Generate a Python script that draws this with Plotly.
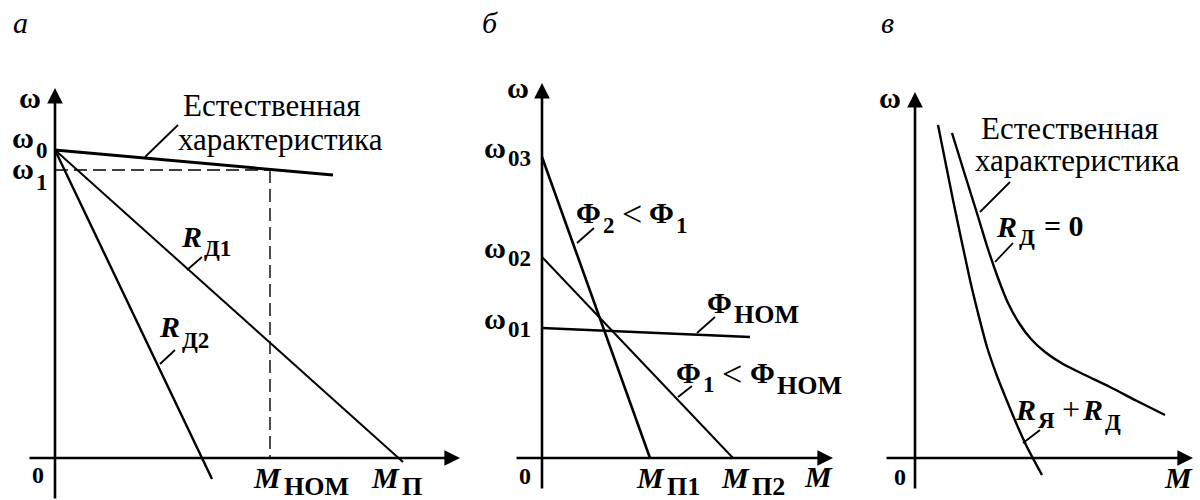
import plotly.graph_objects as go

# ---------------- data (relative units of torque M and speed ω) ----------------
# Panel а: rheostat characteristics
a_omega0 = 308
a_omega1 = 288
a_m_nom = 215
a_m_p = 343
a_nat_M = [0, 278]
a_nat_w = [308, 283]
a_rd1_M = [0, 348]
a_rd1_w = [308, -4]
a_rd2_M = [0, 157]
a_rd2_w = [308, -21]

# Panel б: field weakening
b_omega03 = 301
b_omega02 = 201
b_omega01 = 130
b_m_p1 = 108
b_m_p2 = 191
b_phi2_M = [0, 108]
b_phi2_w = [301, 0]
b_phi1_M = [0, 191]
b_phi1_w = [201, 0]
b_phinom_M = [0, 208]
b_phinom_w = [130, 121]

# Panel в: series excitation motor
v_rsum_M = [23, 38, 55, 63, 72, 82, 92, 102, 112, 127]
v_rsum_w = [333, 258, 178, 145, 111, 82, 57, 33, 11, -17]
v_nat_M = [37, 50, 61, 72, 83, 93, 104, 116, 130, 148, 170, 195, 222, 250]
v_nat_w = [325, 283, 248, 212, 180, 155, 135, 119, 106, 94, 83, 71, 57, 43]

FONT = "Times New Roman, Tinos, serif"
BLACK = "#000000"

fig = go.Figure()

# axis ids per panel
P = {"a": ("x", "y"), "b": ("x2", "y2"), "v": ("x3", "y3")}


def line(panel, xs, ys, width=2.0, dash=None, shape="linear"):
    xr, yr = P[panel]
    fig.add_trace(go.Scatter(
        x=xs, y=ys, mode="lines", xaxis=xr, yaxis=yr,
        line=dict(color=BLACK, width=width, dash=dash, shape=shape, smoothing=0.7),
        hoverinfo="skip", showlegend=False))


def text(panel, x, y, s, size=28, bold=True, italic=False, anchor="center"):
    xr, yr = P[panel]
    if italic:
        s = f"<i>{s}</i>"
    if bold:
        s = f"<b>{s}</b>"
    fig.add_annotation(x=x, y=y, xref=xr, yref=yr, text=s, showarrow=False,
                       xanchor=anchor, yanchor="middle", borderpad=0,
                       font=dict(family=FONT, size=size, color=BLACK))


def symbol(panel, x, y_main, y_sub, main, subs, italic=False,
           size=None, sub_size=None):
    """Main symbol ending at x with its subscript starting at x."""
    text(panel, x, y_main, main, size=size or MAIN, italic=italic, anchor="right")
    text(panel, x, y_sub, subs, size=sub_size or SUB, anchor="left")


def arrow_axis(panel, x0, y0, x1, y1):
    xr, yr = P[panel]
    fig.add_annotation(x=x1, y=y1, ax=x0, ay=y0, xref=xr, yref=yr,
                       axref=xr, ayref=yr, text="", showarrow=True,
                       arrowhead=2, arrowsize=1.2, arrowwidth=2.6,
                       arrowcolor=BLACK, standoff=0)


SUB = 23     # subscript size
MAIN = 30    # main symbol size
SUBW = 26    # word subscripts (НОМ, П)
REL = 36     # relation signs < and +

# ---------------- panel а ----------------
arrow_axis("a", 0, -42, 0, 370)
arrow_axis("a", -27, 0, 405, 0)
line("a", a_nat_M, a_nat_w, width=3)
line("a", a_rd1_M, a_rd1_w, width=2)
line("a", a_rd2_M, a_rd2_w, width=2.4)
line("a", [0, a_m_nom], [a_omega1, a_omega1], width=1.4, dash="13px,6px")
line("a", [a_m_nom, a_m_nom], [a_omega1, 0], width=1.4, dash="13px,6px")
line("a", [90, 123], [301, 333], width=1.8)
line("a", [132, 147], [188, 201], width=1.8)
line("a", [105, 120], [94, 108], width=1.8)

text("a", -35, 436, "а", size=30, bold=False, italic=True)
text("a", -25, 361, "ω", size=MAIN)
symbol("a", -20, a_omega0 + 13, a_omega0, "ω", "0")
symbol("a", -20, a_omega1 + 2, a_omega1 - 12, "ω", "1")
text("a", 217, 353, "Естественная", size=31, bold=False)
text("a", 225, 319, "характеристика", size=31, bold=False)
symbol("a", 148, 222, 210, "R", "Д1", italic=True)
symbol("a", 126, 132, 118, "R", "Д2", italic=True)
text("a", -17, -17, "0", size=24)
symbol("a", a_m_nom + 13, -19, -28, "M", "НОМ", italic=True, sub_size=SUBW)
symbol("a", a_m_p + 3, -19, -28, "M", "П", italic=True, sub_size=SUBW)
text("a", 392, -17, "M", size=MAIN, italic=True)

# ---------------- panel б ----------------
arrow_axis("b", 0, -32, 0, 375)
arrow_axis("b", -27, 0, 291, 0)
line("b", b_phi2_M, b_phi2_w, width=2.6)
line("b", b_phi1_M, b_phi1_w, width=2)
line("b", b_phinom_M, b_phinom_w, width=2.6)
line("b", [35, 52], [215, 230], width=1.8)
line("b", [155, 173], [125, 141], width=1.8)
line("b", [136, 150], [61, 72], width=1.8)

text("b", -52, 436, "б", size=30, bold=False, italic=True)
text("b", -24, 371, "ω", size=MAIN)
for val, s in [(b_omega03, "03"), (b_omega02, "02"), (b_omega01, "01")]:
    symbol("b", -35, val + 10, val - 1, "ω", s)
# Φ2 < Φ1
symbol("b", 60, 246, 233, "Φ", "2")
text("b", 90, 244, "&lt;", size=REL, bold=False)
symbol("b", 133, 246, 233, "Φ", "1")
# Φном
symbol("b", 191, 156, 144, "Φ", "НОМ", sub_size=SUBW)
# Φ1 < Φном
symbol("b", 160, 86, 74, "Φ", "1")
text("b", 190, 84, "&lt;", size=REL, bold=False)
symbol("b", 234, 86, 73, "Φ", "НОМ", sub_size=SUBW)
text("b", -17, -18, "0", size=24)
symbol("b", b_m_p1 + 16, -19, -28, "M", "П1", italic=True, sub_size=SUBW)
symbol("b", b_m_p2 + 18, -19, -28, "M", "П2", italic=True, sub_size=SUBW)
text("b", 276, -18, "M", size=MAIN, italic=True)

# ---------------- panel в ----------------
arrow_axis("v", 0, -32, 0, 366)
arrow_axis("v", -30, 0, 278, 0)
line("v", v_rsum_M, v_rsum_w, width=2.4, shape="spline")
line("v", v_nat_M, v_nat_w, width=2.4, shape="spline")
line("v", [65, 95], [246, 276], width=1.8)
line("v", [80, 98], [196, 215], width=1.8)
line("v", [108, 125], [15, 28], width=1.8)

text("v", -28, 436, "в", size=30, bold=False, italic=True)
text("v", -25, 361, "ω", size=MAIN)
text("v", 155, 330, "Естественная", size=31, bold=False)
text("v", 162, 298, "характеристика", size=31, bold=False)
# Rд = 0
symbol("v", 103, 232, 221, "R", "Д", italic=True)
text("v", 128, 233, "= 0", size=MAIN, anchor="left")
# Rя + Rд
symbol("v", 122, 49, 38, "R", "Я", italic=True)
text("v", 156, 49, "+", size=REL - 4, bold=False)
symbol("v", 189, 49, 36, "R", "Д", italic=True)
text("v", -15, -19, "0", size=24)
text("v", 263, -19, "M", size=MAIN, italic=True)

# ---------------- layout: 1 data unit = 1 px ----------------
W, H = 1200, 500


def xa(px0, px1, origin):
    return dict(domain=[px0 / W, px1 / W], range=[px0 - origin, px1 - origin],
                visible=False, fixedrange=True)


def ya(origin_y, anchor):
    return dict(domain=[0, 1], range=[origin_y - H, origin_y], visible=False,
                fixedrange=True, anchor=anchor)


fig.update_layout(
    width=W, height=H, autosize=False,
    margin=dict(l=0, r=0, t=0, b=0),
    paper_bgcolor="white", plot_bgcolor="rgba(0,0,0,0)",
    showlegend=False,
    xaxis=dict(xa(0, 420, 55), anchor="y"),
    yaxis=ya(458, "x"),
    xaxis2=dict(xa(440, 860, 542), anchor="y2"),
    yaxis2=ya(458, "x2"),
    xaxis3=dict(xa(860, 1200, 915), anchor="y3"),
    yaxis3=ya(458, "x3"),
)

fig.write_html("out.html")
